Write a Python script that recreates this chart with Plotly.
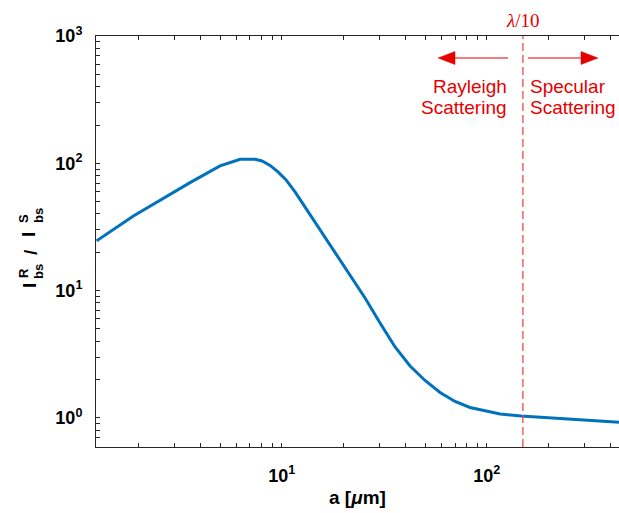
import numpy as np
import plotly.graph_objects as go

# Backscatter intensity ratio (Rayleigh / specular) versus roughness scale a
a_um = [1.25, 1.89, 3.57, 5.00, 6.27, 7.41, 8.01, 8.77, 9.59, 10.50, 11.61, 12.99,
        15.38, 18.20, 21.54, 25.49, 30.17, 35.70, 42.26, 50.00, 59.19, 70.03,
        82.88, 98.1, 116.1, 147, 246.5, 442]
ratio = [24.6, 38.6, 70.5, 95.4, 107.7, 107.7, 104.4, 96.3, 85.6, 74.1, 59.6, 45.4,
         30.5, 20.3, 13.4, 8.76, 5.58, 3.61, 2.56, 1.97, 1.586, 1.348,
         1.209, 1.135, 1.075, 1.037, 0.982, 0.925]

LAMBDA_10 = 150  # lambda/10 in micrometres

X_RANGE = [0.094, 2.645]   # log10 limits
Y_RANGE = [-0.228, 3.0]

x_major = [10, 100]
x_major_text = ["<b>10<sup>1</sup></b>", "<b>10<sup>2</sup></b>"]
y_major = [1, 10, 100, 1000]
y_major_text = ["<b>10<sup>0</sup></b>", "<b>10<sup>1</sup></b>",
                "<b>10<sup>2</sup></b>", "<b>10<sup>3</sup></b>"]

x_minor = [m * 10 ** e for e in (0, 1, 2) for m in range(2, 10)]
y_minor = [m * 10 ** e for e in (-1, 0, 1, 2) for m in range(2, 10)]

W, H = 619, 513
ML, MR, MT, MB = 96, 0, 36, 66
PW, PH = W - ML - MR, H - MT - MB

RED = "#e60000"
AX = "#262626"
FONT = "Liberation Sans, Arial, sans-serif"


def px(x):
    return (x - ML) / PW


def py(y):
    return (H - MB - y) / PH


fig = go.Figure()
fig.add_trace(go.Scatter(x=a_um, y=ratio, mode="lines",
                         line=dict(color="#0072bd", width=3)))
fig.add_trace(go.Scatter(x=[LAMBDA_10, LAMBDA_10],
                         y=[10 ** Y_RANGE[0], 10 ** Y_RANGE[1]], mode="lines",
                         line=dict(color="rgba(235,70,70,0.85)", width=1.5,
                                   dash="8px,4px")))

# major + minor ticks in one array; minor entries get blank labels
x_ticks = x_major + x_minor
x_text = x_major_text + [""] * len(x_minor)
y_ticks = y_major + y_minor
y_text = y_major_text + [""] * len(y_minor)

axis_common = dict(
    type="log", showgrid=False, zeroline=False, showline=True,
    linecolor=AX, linewidth=1, ticks="inside", tickcolor=AX, tickwidth=1,
    ticklen=4, tickfont=dict(family=FONT, size=18, color="#000"),
    tickmode="array",
)

fig.update_layout(
    xaxis=dict(range=X_RANGE, tickvals=x_ticks, ticktext=x_text,
               mirror="allticks", ticklabelstandoff=12, **axis_common),
    yaxis=dict(range=Y_RANGE, tickvals=y_ticks, ticktext=y_text,
               mirror=False, ticklabelstandoff=9, **axis_common),
)

ann = []
# x-axis title
ann.append(dict(text="<b>a [<i>μ</i>m]</b>", xref="paper", yref="paper",
                x=px(ML + PW / 2), y=py(497), showarrow=False,
                font=dict(family=FONT, size=19, color="#000"),
                xanchor="center", yanchor="middle"))

# y-axis title built from stacked super/subscript pieces
ylab = [
    ("<b>I</b>", 29, 286, 19),
    ("<b>R</b>", 23, 273, 13),
    ("<b>bs</b>", 38, 272, 13),
    ("<b>/</b>", 30, 252, 19),
    ("<b>I</b>", 29, 235, 19),
    ("<b>S</b>", 23, 219, 13),
    ("<b>bs</b>", 38, 216, 13),
]
for t, xx, yy, s in ylab:
    ann.append(dict(text=t, xref="paper", yref="paper", x=px(xx), y=py(yy),
                    showarrow=False, textangle=-90,
                    font=dict(family=FONT, size=s, color="#000"),
                    xanchor="center", yanchor="middle"))

# lambda/10 label above the cut-off line
ann.append(dict(text="<i>λ</i>/10", xref="x", yref="paper",
                x=np.log10(LAMBDA_10), y=py(21), showarrow=False,
                font=dict(family="Liberation Serif, serif", size=19, color=RED),
                xanchor="center", yanchor="middle"))

# regime labels
for t, yy in (("Rayleigh", 87), ("Scattering", 107)):
    ann.append(dict(text=t, xref="paper", yref="paper", x=px(509), y=py(yy),
                    showarrow=False, xanchor="right", yanchor="middle",
                    font=dict(family=FONT, size=19, color=RED)))
for t, yy in (("Specular", 87), ("Scattering", 107)):
    ann.append(dict(text=t, xref="paper", yref="paper", x=px(528), y=py(yy),
                    showarrow=False, xanchor="left", yanchor="middle",
                    font=dict(family=FONT, size=19, color=RED)))

shapes = []
ARROW_Y = 58
# left-pointing arrow
shapes.append(dict(type="line", xref="paper", yref="paper",
                   x0=px(508), x1=px(452), y0=py(ARROW_Y), y1=py(ARROW_Y),
                   line=dict(color=RED, width=1.2)))
shapes.append(dict(type="path", xref="paper", yref="paper",
                   path=f"M {px(438)} {py(ARROW_Y)} L {px(455)} {py(ARROW_Y - 6.5)} "
                        f"L {px(455)} {py(ARROW_Y + 6.5)} Z",
                   fillcolor=RED, line=dict(color=RED, width=0.5)))
# right-pointing arrow
shapes.append(dict(type="line", xref="paper", yref="paper",
                   x0=px(528), x1=px(584), y0=py(ARROW_Y), y1=py(ARROW_Y),
                   line=dict(color=RED, width=1.2)))
shapes.append(dict(type="path", xref="paper", yref="paper",
                   path=f"M {px(598)} {py(ARROW_Y)} L {px(581)} {py(ARROW_Y - 6.5)} "
                        f"L {px(581)} {py(ARROW_Y + 6.5)} Z",
                   fillcolor=RED, line=dict(color=RED, width=0.5)))

fig.update_layout(
    width=W, height=H,
    margin=dict(l=ML, r=MR, t=MT, b=MB, pad=0),
    paper_bgcolor="white", plot_bgcolor="white",
    showlegend=False,
    annotations=ann, shapes=shapes,
    font=dict(family=FONT, color="#000"),
)

fig.write_html("out.html")
